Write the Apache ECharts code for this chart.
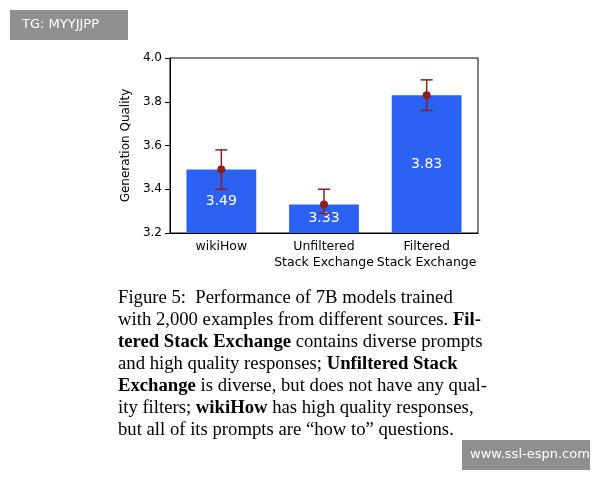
<!DOCTYPE html>
<html><head><meta charset="utf-8">
<script src="https://cdn.jsdelivr.net/npm/echarts@6/dist/echarts.min.js"></script>
<style>html,body{margin:0;background:#fff}#c{width:600px;height:480px}</style>
</head><body><div id="c"></div>
<script>
const categories = ['wikiHow', 'Unfiltered\nStack Exchange', 'Filtered\nStack Exchange'];
const values = [3.49, 3.33, 3.83];
const errLow = [3.40, 3.29, 3.76];
const errHigh = [3.58, 3.40, 3.90];
const yTicks = [3.2, 3.4, 3.6, 3.8, 4.0];

const chart = echarts.init(document.getElementById('c'));
const serif = '"Liberation Serif", "DejaVu Serif", serif';
chart.setOption({
  animation: false,
  grid: {left: 170, right: 122, top: 58, bottom: 247, show: true, borderColor: '#000', borderWidth: 1},
  xAxis: {type: 'category', data: categories,
    axisLine: {lineStyle: {color: '#000'}}, axisTick: {alignWithLabel: true, lineStyle: {color: '#000'}},
    axisLabel: {interval: 0, color: '#000', fontSize: 12.5, fontFamily: 'DejaVu Sans', lineHeight: 16, margin: 6}},
  yAxis: {type: 'value', min: 3.2, max: 4.0, interval: 0.2, splitLine: {show: false},
    name: 'Generation Quality', nameLocation: 'middle', nameGap: 34,
    nameTextStyle: {color: '#000', fontSize: 12, fontFamily: 'DejaVu Sans'},
    axisLine: {show: true, lineStyle: {color: '#000'}}, axisTick: {show: true, lineStyle: {color: '#000'}},
    axisLabel: {color: '#000', fontSize: 12, fontFamily: 'DejaVu Sans', formatter: v => v.toFixed(1)}},
  series: [
    {type: 'bar', data: values, barWidth: '68%', itemStyle: {color: '#2b62f4'},
     label: {show: true, position: 'inside', color: '#fff', fontSize: 14, fontFamily: 'DejaVu Sans', formatter: p => p.value.toFixed(2)}},
    {type: 'custom', data: values.map((v, i) => [i, errLow[i], errHigh[i], v]), z: 10,
     renderItem: (params, api) => {
       const lo = api.coord([api.value(0), api.value(1)]);
       const hi = api.coord([api.value(0), api.value(2)]);
       const m = api.coord([api.value(0), api.value(3)]);
       const c = '#8b1f1f', w = 6;
       return {type: 'group', children: [
         {type: 'line', shape: {x1: lo[0], y1: lo[1], x2: hi[0], y2: hi[1]}, style: {stroke: c, lineWidth: 1.5}},
         {type: 'line', shape: {x1: lo[0]-w, y1: lo[1], x2: lo[0]+w, y2: lo[1]}, style: {stroke: c, lineWidth: 1.5}},
         {type: 'line', shape: {x1: hi[0]-w, y1: hi[1], x2: hi[0]+w, y2: hi[1]}, style: {stroke: c, lineWidth: 1.5}},
         {type: 'circle', shape: {cx: m[0], cy: m[1], r: 4}, style: {fill: c}}
       ]};
     }}
  ],
  graphic: [
    {type: 'rect', left: 10, top: 10, shape: {width: 118, height: 30}, style: {fill: '#8f8f8f'}},
    {type: 'text', left: 22, top: 18, style: {text: 'TG: MYYJJPP', fill: '#fff', font: '13px "DejaVu Sans"'}},
    {type: 'rect', left: 462, top: 440, shape: {width: 128, height: 30}, style: {fill: '#8f8f8f'}},
    {type: 'text', left: 470, top: 448, style: {text: 'www.ssl-espn.com', fill: '#fff', font: '13px "DejaVu Sans"'}},
    {type: 'text', left: 118, top: 287, style: {
      font: '18.7px ' + serif, fill: '#000', lineHeight: 22,
      text: 'Figure 5:  Performance of 7B models trained\nwith 2,000 examples from different sources. {b|Fil-}\n{b|tered Stack Exchange} contains diverse prompts\nand high quality responses; {b|Unfiltered Stack}\n{b|Exchange} is diverse, but does not have any qual-\nity filters; {b|wikiHow} has high quality responses,\nbut all of its prompts are \u201chow to\u201d questions.',
      rich: {b: {fontWeight: 'bold', fontSize: 18.7, fontFamily: serif}}
    }}
  ]
});
</script></body></html>
